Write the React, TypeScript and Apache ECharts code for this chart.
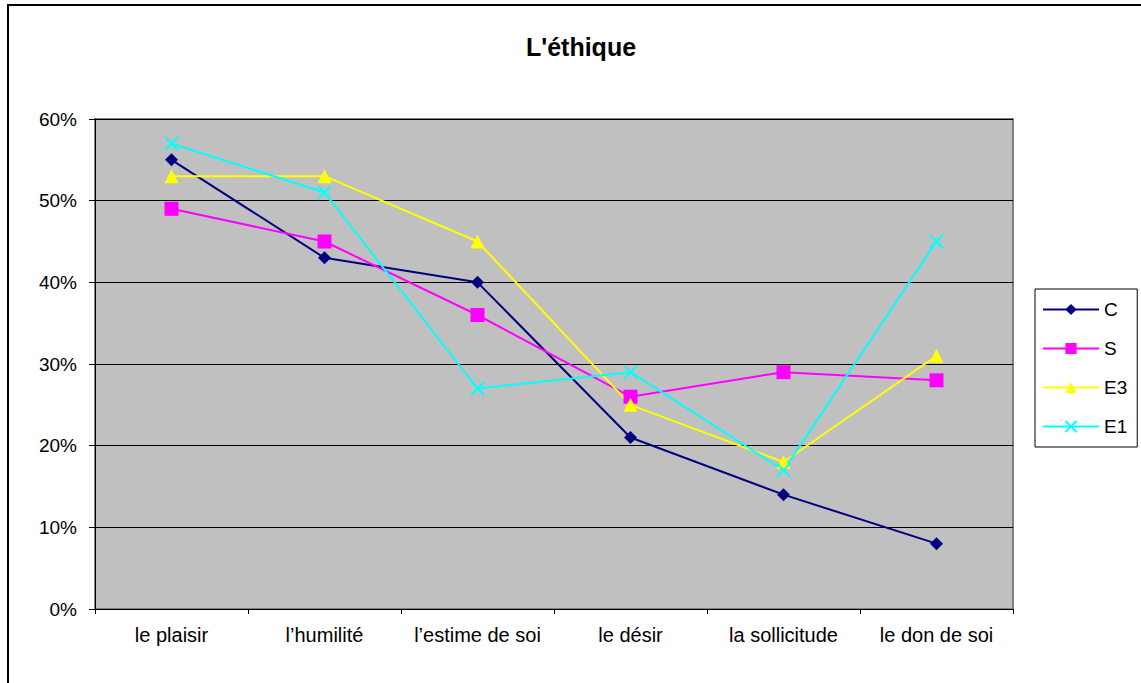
import React, { useEffect, useRef } from "react";
import * as echarts from "echarts";

const categories = ["le plaisir", "l\u2019humilit\u00e9", "l\u2019estime de soi", "le d\u00e9sir", "la sollicitude", "le don de soi"];
const seriesC = [55, 43, 40, 21, 14, 8];
const seriesS = [49, 45, 36, 26, 29, 28];
const seriesE3 = [53, 53, 45, 25, 18, 31];
const seriesE1 = [57, 51, 27, 29, 17, 45];
const yTicks = [0, 10, 20, 30, 40, 50, 60];

const FONT = "Arial, 'Liberation Sans', sans-serif";

export default function App() {
  const ref = useRef<HTMLDivElement>(null);
  useEffect(() => {
    document.body.style.margin = "0";
    const chart = echarts.init(ref.current!, null, { renderer: "svg" });
    const crossPath = "path://M0,0L10,10M10,0L0,10";
    chart.setOption({
      animation: false,
      backgroundColor: "#ffffff",
      textStyle: { fontFamily: FONT },
      title: {
        text: "L'\u00e9thique",
        left: 576,
        textAlign: "center",
        top: 29,
        textStyle: { fontFamily: FONT, fontSize: 25, fontWeight: "bold", color: "#000" },
      },
      graphic: [
        {
          type: "rect",
          shape: { x: 8, y: 5, width: 1160, height: 720 },
          style: { fill: "none", stroke: "#000", lineWidth: 2 },
          silent: true,
          z: -1,
        },
      ],
      legend: {
        orient: "vertical",
        left: 1035,
        top: 289,
        padding: [11, 10, 11, 7],
        itemGap: 20,
        itemWidth: 56,
        itemHeight: 14,
        borderColor: "#000",
        borderWidth: 1,
        backgroundColor: "#fff",
        textStyle: { fontFamily: FONT, fontSize: 19, color: "#000", lineHeight: 18 },
        data: ["C", "S", "E3", "E1"],
      },
      grid: {
        left: 95,
        top: 119,
        right: 128,
        bottom: 74,
        show: true,
        backgroundColor: "#C0C0C0",
        borderColor: "#808080",
        borderWidth: 2,
      },
      xAxis: {
        type: "category",
        data: categories,
        boundaryGap: true,
        axisLine: { show: true, lineStyle: { color: "#000", width: 1 } },
        axisTick: { show: true, alignWithLabel: false, interval: 0, length: 5, lineStyle: { color: "#000" } },
        axisLabel: { fontFamily: FONT, fontSize: 20, color: "#000", margin: 16, interval: 0, hideOverlap: false },
        splitLine: { show: false },
      },
      yAxis: {
        type: "value",
        min: yTicks[0],
        max: yTicks[yTicks.length - 1],
        interval: 10,
        axisLine: { show: true, lineStyle: { color: "#000", width: 1 } },
        axisTick: { show: true, length: 6, lineStyle: { color: "#000" } },
        axisLabel: { fontFamily: FONT, fontSize: 19, color: "#000", margin: 18, formatter: "{value}%" },
        splitLine: { show: true, lineStyle: { color: "#000", width: 1 } },
      },
      series: [
        {
          name: "C",
          type: "line",
          data: seriesC,
          symbol: "diamond",
          symbolSize: 13,
          lineStyle: { color: "#000080", width: 2 },
          itemStyle: { color: "#000080" },
        },
        {
          name: "S",
          type: "line",
          data: seriesS,
          symbol: "rect",
          symbolSize: 14,
          lineStyle: { color: "#FF00FF", width: 2 },
          itemStyle: { color: "#FF00FF" },
        },
        {
          name: "E3",
          type: "line",
          data: seriesE3,
          symbol: "triangle",
          symbolSize: 14,
          lineStyle: { color: "#FFFF00", width: 2 },
          itemStyle: { color: "#FFFF00" },
        },
        {
          name: "E1",
          type: "line",
          data: seriesE1,
          symbol: crossPath,
          symbolSize: 13,
          lineStyle: { color: "#00FFFF", width: 2 },
          itemStyle: { color: "none", borderColor: "#00FFFF", borderWidth: 2 },
        },
      ],
    });
    return () => chart.dispose();
  }, []);
  return <div ref={ref} style={{ width: 1141, height: 683 }} />;
}
